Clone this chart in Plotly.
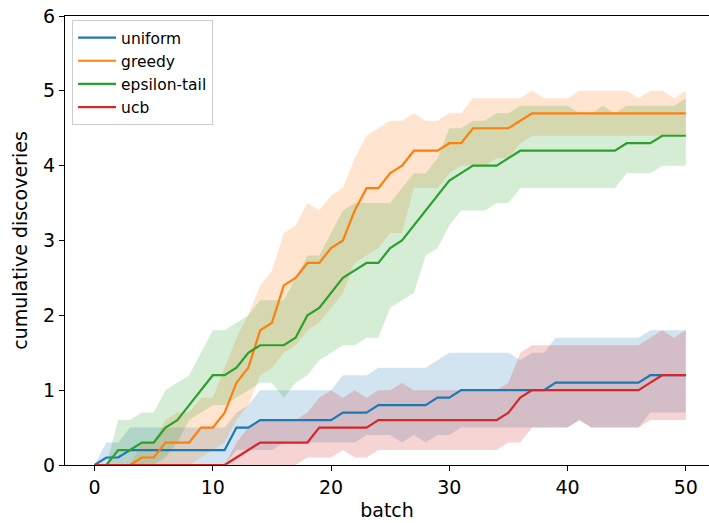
import plotly.graph_objects as go

batch = list(range(51))

# uniform
uniform_mean = [0, 0.1, 0.1, 0.2, 0.2, 0.2, 0.2, 0.2, 0.2, 0.2, 0.2, 0.2, 0.5, 0.5, 0.6, 0.6, 0.6, 0.6, 0.6, 0.6,
                0.6, 0.7, 0.7, 0.7, 0.8, 0.8, 0.8, 0.8, 0.8, 0.9, 0.9, 1.0, 1.0, 1.0, 1.0, 1.0, 1.0, 1.0, 1.0, 1.1,
                1.1, 1.1, 1.1, 1.1, 1.1, 1.1, 1.1, 1.2, 1.2, 1.2, 1.2]
uniform_low = [0, 0, 0, 0, 0, 0, 0, 0, 0, 0, 0, 0, 0.2, 0.2, 0.2, 0.2, 0.3, 0.3, 0.3, 0.3,
               0.3, 0.3, 0.3, 0.4, 0.4, 0.4, 0.3, 0.4, 0.3, 0.4, 0.4, 0.5, 0.5, 0.5, 0.5, 0.5, 0.5, 0.5, 0.5, 0.5,
               0.5, 0.6, 0.5, 0.5, 0.5, 0.5, 0.5, 0.7, 0.7, 0.7, 0.7]
uniform_high = [0, 0.3, 0.3, 0.5, 0.5, 0.5, 0.5, 0.5, 0.5, 0.5, 0.5, 0.5, 0.7, 0.8, 1.0, 1.0, 1.0, 1.0, 1.0, 1.0,
                1.0, 1.2, 1.2, 1.2, 1.3, 1.3, 1.3, 1.3, 1.3, 1.4, 1.5, 1.5, 1.5, 1.5, 1.5, 1.5, 1.4, 1.5, 1.5, 1.7,
                1.7, 1.7, 1.7, 1.7, 1.7, 1.7, 1.7, 1.8, 1.8, 1.8, 1.8]

# greedy
greedy_mean = [0, 0, 0, 0, 0.1, 0.1, 0.3, 0.3, 0.3, 0.5, 0.5, 0.7, 1.1, 1.3, 1.8, 1.9, 2.4, 2.5, 2.7, 2.7,
               2.9, 3.0, 3.4, 3.7, 3.7, 3.9, 4.0, 4.2, 4.2, 4.2, 4.3, 4.3, 4.5, 4.5, 4.5, 4.5, 4.6, 4.7, 4.7, 4.7,
               4.7, 4.7, 4.7, 4.7, 4.7, 4.7, 4.7, 4.7, 4.7, 4.7, 4.7]
greedy_low = [0, 0, 0, 0, 0, 0, 0, 0, 0, 0.1, 0.2, 0.3, 0.6, 0.8, 1.2, 1.3, 1.5, 1.6, 1.8, 1.9,
              2.1, 2.3, 2.7, 2.8, 2.9, 3.1, 3.1, 3.7, 3.7, 3.7, 3.9, 4.0, 4.0, 4.0, 4.1, 4.1, 4.3, 4.4, 4.4, 4.4,
              4.4, 4.4, 4.4, 4.4, 4.4, 4.4, 4.4, 4.4, 4.4, 4.4, 4.4]
greedy_high = [0, 0, 0, 0, 0.3, 0.3, 0.6, 0.7, 0.7, 0.9, 0.9, 1.3, 1.7, 2.0, 2.4, 2.6, 3.1, 3.2, 3.5, 3.4,
               3.6, 3.7, 4.1, 4.4, 4.5, 4.6, 4.6, 4.7, 4.6, 4.6, 4.7, 4.7, 4.9, 4.9, 4.9, 4.9, 4.9, 5.0, 4.9, 4.9,
               4.9, 5.0, 5.0, 5.0, 5.0, 5.0, 4.9, 5.0, 5.0, 4.9, 5.0]

# epsilon-tail
eps_mean = [0, 0, 0.2, 0.2, 0.3, 0.3, 0.5, 0.6, 0.8, 1.0, 1.2, 1.2, 1.3, 1.5, 1.6, 1.6, 1.6, 1.7, 2.0, 2.1,
            2.3, 2.5, 2.6, 2.7, 2.7, 2.9, 3.0, 3.2, 3.4, 3.6, 3.8, 3.9, 4.0, 4.0, 4.0, 4.1, 4.2, 4.2, 4.2, 4.2,
            4.2, 4.2, 4.2, 4.2, 4.2, 4.3, 4.3, 4.3, 4.4, 4.4, 4.4]
eps_low = [0, 0, 0, 0, 0, 0, 0.1, 0.3, 0.6, 0.7, 0.8, 0.8, 0.9, 1.0, 1.1, 1.1, 0.9, 1.1, 1.2, 1.4,
           1.5, 1.6, 1.6, 1.7, 1.7, 2.1, 2.2, 2.3, 2.8, 2.9, 3.2, 3.4, 3.4, 3.4, 3.5, 3.5, 3.7, 3.7, 3.7, 3.7,
           3.7, 3.7, 3.7, 3.7, 3.7, 3.9, 3.9, 3.9, 4.0, 4.0, 4.0]
eps_high = [0, 0, 0.6, 0.6, 0.7, 0.7, 1.0, 1.1, 1.2, 1.5, 1.8, 1.8, 1.9, 2.0, 2.2, 2.2, 2.2, 2.5, 2.8, 2.8,
            3.1, 3.4, 3.5, 3.5, 3.5, 3.5, 3.7, 3.9, 3.9, 4.1, 4.5, 4.5, 4.6, 4.6, 4.7, 4.7, 4.8, 4.8, 4.8, 4.8,
            4.8, 4.7, 4.7, 4.8, 4.7, 4.8, 4.8, 4.8, 4.8, 4.8, 4.9]

# ucb
ucb_mean = [0, 0, 0, 0, 0, 0, 0, 0, 0, 0, 0, 0, 0.1, 0.2, 0.3, 0.3, 0.3, 0.3, 0.3, 0.5,
            0.5, 0.5, 0.5, 0.5, 0.6, 0.6, 0.6, 0.6, 0.6, 0.6, 0.6, 0.6, 0.6, 0.6, 0.6, 0.7, 0.9, 1.0, 1.0, 1.0,
            1.0, 1.0, 1.0, 1.0, 1.0, 1.0, 1.0, 1.1, 1.2, 1.2, 1.2]
ucb_low = [0, 0, 0, 0, 0, 0, 0, 0, 0, 0, 0, 0, 0, 0, 0, 0, 0, 0, 0.1, 0.1,
           0.1, 0.2, 0.1, 0.1, 0.2, 0.2, 0.2, 0.2, 0.2, 0.2, 0.2, 0.2, 0.2, 0.2, 0.2, 0.3, 0.3, 0.5, 0.5, 0.5,
           0.5, 0.6, 0.5, 0.5, 0.5, 0.5, 0.5, 0.6, 0.6, 0.6, 0.6]
ucb_high = [0, 0, 0, 0, 0, 0, 0, 0, 0, 0, 0, 0, 0.3, 0.5, 0.6, 0.6, 0.6, 0.6, 0.7, 0.9,
            1.0, 0.9, 1.0, 0.9, 1.0, 1.0, 1.1, 1.0, 1.0, 1.0, 1.0, 1.0, 1.0, 1.0, 1.0, 1.1, 1.5, 1.6, 1.6, 1.6,
            1.6, 1.6, 1.6, 1.6, 1.6, 1.6, 1.6, 1.7, 1.8, 1.7, 1.8]

x_ticks = [0, 10, 20, 30, 40, 50]
y_ticks = [0, 1, 2, 3, 4, 5, 6]

series = [
    ("uniform", uniform_mean, uniform_low, uniform_high, "#1f77b4", "rgba(31,119,180,0.2)"),
    ("greedy", greedy_mean, greedy_low, greedy_high, "#ff7f0e", "rgba(255,127,14,0.2)"),
    ("epsilon-tail", eps_mean, eps_low, eps_high, "#2ca02c", "rgba(44,160,44,0.2)"),
    ("ucb", ucb_mean, ucb_low, ucb_high, "#d62728", "rgba(214,39,40,0.2)"),
]

fig = go.Figure()
for name, m, lo, hi, col, fcol in series:
    fig.add_trace(go.Scatter(x=batch + batch[::-1], y=hi + lo[::-1], fill="toself",
                             fillcolor=fcol, line=dict(width=0), mode="lines",
                             showlegend=False, hoverinfo="skip"))
for name, m, lo, hi, col, fcol in series:
    fig.add_trace(go.Scatter(x=batch, y=m, mode="lines", name=name,
                             line=dict(color=col, width=2.2)))

axis_common = dict(showgrid=False, zeroline=False, showline=True, linecolor="black", linewidth=1,
                   ticks="outside", ticklen=5, tickwidth=1, tickcolor="black", automargin=False,
                   ticklabeloverflow="allow",
                   tickfont=dict(family="DejaVu Sans", size=19, color="black"))

fig.update_layout(
    width=709, height=523,
    margin=dict(l=65, r=0, t=16, b=58),
    plot_bgcolor="white", paper_bgcolor="white",
    font=dict(family="DejaVu Sans", color="black"),
    xaxis=dict(range=[-2.5, 51.96], tickvals=x_ticks, mirror=True,
               title=dict(text="batch", font=dict(size=19), standoff=6), **axis_common),
    yaxis=dict(range=[0, 6], tickvals=y_ticks,
               title=dict(text="cumulative discoveries", font=dict(size=19), standoff=10), **axis_common),
    legend=dict(x=0.011, y=0.991, xanchor="left", yanchor="top", bgcolor="white",
                bordercolor="#cccccc", borderwidth=1, font=dict(size=15.5), itemwidth=38),
)

# remove the default page margin so the 709x523 figure sits at the window's top-left corner
fig.write_html("out.html", config={"displayModeBar": False},
               post_script="document.body.style.margin='0px';")
